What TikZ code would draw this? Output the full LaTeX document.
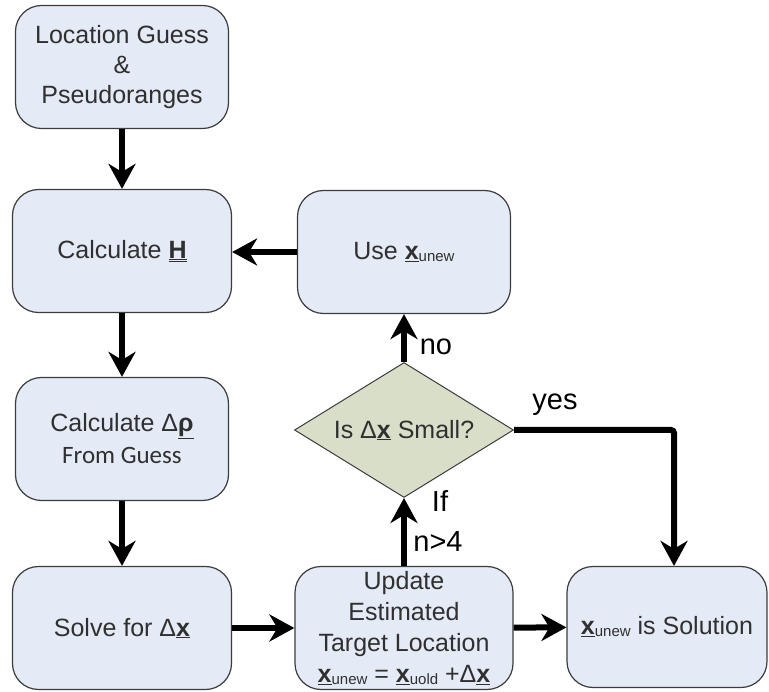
\documentclass[tikz,border=0pt]{standalone}
\usepackage{fontspec}
\setmainfont{Liberation Sans}
\newfontfamily\calfont{Carlito}
\usepackage{tikz}
\usetikzlibrary{arrows.meta,shapes.geometric}
\definecolor{boxfill}{HTML}{E4EAF6}
\definecolor{decfill}{HTML}{D9DEC9}
\definecolor{boxline}{HTML}{3C3C3C}
\definecolor{txt}{HTML}{303030}
\newcommand{\vx}[1]{\underline{\textbf{x}}\raisebox{-2pt}{\fontsize{15}{15}\selectfont #1}}

\begin{document}
\begin{tikzpicture}[x=1pt,y=-1pt]
\tikzstyle{every node}+=[inner sep=0pt,text=txt,font=\fontsize{25}{30}\selectfont]
\tikzstyle{block}=[draw=boxline,line width=1.2pt,fill=boxfill,rounded corners=26pt,minimum height=123pt,align=center]
\tikzstyle{decision}=[draw=boxline,line width=1pt,fill=decfill,diamond,aspect=1.6,minimum width=219pt,minimum height=135pt]
\tikzstyle{flow}=[line width=6pt,-{Stealth[length=25pt,width=27pt,inset=8pt]}]
\tikzstyle{lbl}=[text=black,font=\fontsize{29}{30}\selectfont]
\useasboundingbox (0,0) rectangle (769,692);
\node[block,minimum width=213pt] (guess) at (122,67) {Location Guess\\\&\\Pseudoranges};
\node[block,minimum width=219pt] (calcH) at (122,251) {Calculate \underline{\underline{\textbf{H}}}};
\node[block,minimum width=213pt,font=\fontsize{25}{32}\selectfont] (calcRho) at (122,439) {Calculate Δ\underline{\textbf{ρ}}\\{\calfont From Guess}};
\node[block,minimum width=219pt] (solve) at (122,628) {Solve for Δ\underline{\textbf{x}}};
\node[block,minimum width=213pt] (use) at (404,252) {Use \vx{unew}};
\node[decision] (dec) at (404,430) {Is Δ\underline{\textbf{x}} Small?};
\node[block,minimum width=218pt,font=\fontsize{25}{31}\selectfont] (update) at (404,628) {Update\\Estimated\\Target Location\\\vx{unew} = \vx{uold} +Δ\underline{\textbf{x}}};
\node[block,minimum width=200pt,minimum height=121pt] (sol) at (667,627) {\vx{unew} is Solution};
\draw[flow] (guess) -- (calcH);
\draw[flow] (calcH) -- (calcRho);
\draw[flow] (calcRho) -- (solve);
\draw[flow] (solve) -- (update);
\draw[flow] (update) -- (sol);
\draw[flow] (use.west) -- (use.west -| calcH.east);
\draw[flow] (update) -- (dec);
\draw[flow] (dec) -- (use);
\draw[flow,rounded corners=3pt] (dec.east) -| ([xshift=7pt]sol.north);
\node[lbl] (noLbl) at (436,347) {no};
\node[lbl] (yesLbl) at (555,405) {yes};
\node[lbl] (ifLbl) at (440,501) {If};
\node[lbl] (nLbl) at (438,542) {n>4};
\end{tikzpicture}
\end{document}
